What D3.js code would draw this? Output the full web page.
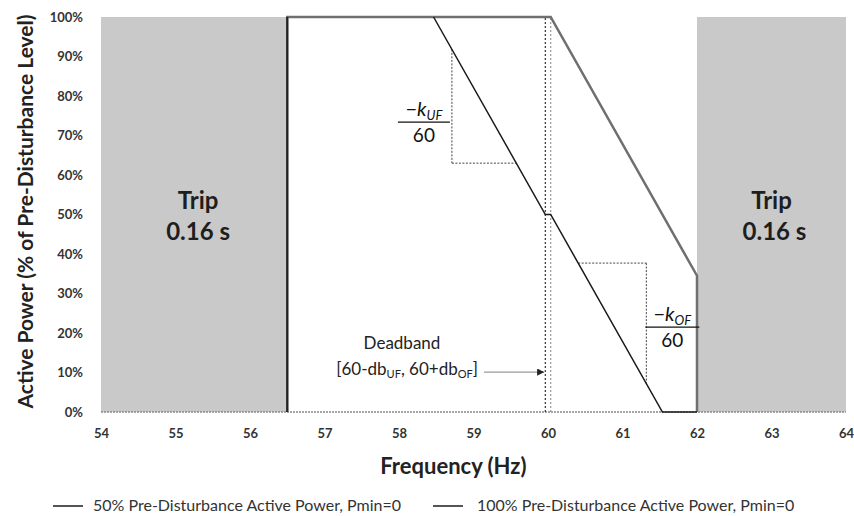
<!DOCTYPE html>
<html>
<head>
<meta charset="utf-8">
<script src="https://cdn.jsdelivr.net/npm/d3@7"></script>
<style>
  body { margin: 0; background: #fff; }
  text { font-family: Lato, "Open Sans", sans-serif; }
</style>
</head>
<body>
<svg id="chart" width="854" height="516"></svg>
<script>
// ---- data ----
var freqTicks = [54, 55, 56, 57, 58, 59, 60, 61, 62, 63, 64];
var powerTicks = [0, 10, 20, 30, 40, 50, 60, 70, 80, 90, 100];

// trip zones (Hz)
var tripStart = [54, 62];
var tripEnd = [56.5, 64];

// 100% pre-disturbance curve
var full_f = [56.5, 56.5, 60.036, 62, 62];
var full_p = [0, 100, 100, 34.5, 0];

// 50% pre-disturbance curve
var half_f = [58.464, 59.964, 60.036, 61.536, 62];
var half_p = [100, 50, 50, 0, 0];

// deadband edges
var deadband = [59.964, 60.036];

// slope triangles
var ufTri = [58.71, 63];     // f of vertical leg, power of horizontal leg
var ofTri = [60.405, 61.32]; // f at top corner, f of vertical leg

var seriesNames = ["50% Pre-Disturbance Active Power, Pmin=0", "100% Pre-Disturbance Active Power, Pmin=0"];

var margin = {top: 17, right: 8, bottom: 104, left: 101},
    width = 854 - margin.left - margin.right,
    height = 516 - margin.top - margin.bottom;

var svg = d3.select("#chart")
  .append("g")
  .attr("transform", "translate(" + margin.left + "," + margin.top + ")");

var x = d3.scaleLinear().domain([54, 64]).range([0, width]);
var y = d3.scaleLinear().domain([0, 100]).range([height, 0]);

// trip zones
svg.selectAll(".trip")
  .data(tripStart)
  .enter().append("rect")
  .attr("class", "trip")
  .attr("x", function(d) { return x(d); })
  .attr("y", y(100))
  .attr("width", function(d, i) { return x(tripEnd[i]) - x(d); })
  .attr("height", height)
  .attr("fill", "#c9c9c9");

svg.selectAll(".tripLabel")
  .data(tripStart)
  .enter().append("text")
  .attr("x", function(d, i) { return x((d + tripEnd[i]) / 2) + (i === 0 ? 4 : 0); })
  .attr("y", y(51.5))
  .attr("text-anchor", "middle")
  .attr("font-size", "24px")
  .attr("font-weight", "700")
  .attr("fill", "#1e1e1e")
  .text("Trip");

svg.selectAll(".tripTime")
  .data(tripStart)
  .enter().append("text")
  .attr("x", function(d, i) { return x((d + tripEnd[i]) / 2) + (i === 0 ? 4 : 3); })
  .attr("y", y(43.5))
  .attr("text-anchor", "middle")
  .attr("font-size", "24px")
  .attr("font-weight", "700")
  .attr("fill", "#1e1e1e")
  .text("0.16 s");

// zero line
svg.append("line")
  .attr("x1", 0).attr("x2", width)
  .attr("y1", y(0)).attr("y2", y(0))
  .attr("stroke", "#888")
  .attr("stroke-width", 1.5)
  .attr("stroke-dasharray", "2,1");

// deadband
svg.selectAll(".db")
  .data(deadband)
  .enter().append("line")
  .attr("x1", function(d) { return x(d); })
  .attr("x2", function(d) { return x(d); })
  .attr("y1", y(0)).attr("y2", y(100))
  .attr("stroke", function(d, i) { return i === 0 ? "#333" : "#999"; })
  .attr("stroke-width", 1.2)
  .attr("stroke-dasharray", "2,2");

// slope triangles
function halfAt(f) {
  // power on the 50% curve
  if (f <= half_f[1]) return half_p[0] + (f - half_f[0]) * (half_p[1] - half_p[0]) / (half_f[1] - half_f[0]);
  return half_p[2] + (f - half_f[2]) * (half_p[3] - half_p[2]) / (half_f[3] - half_f[2]);
}
function fAt(p, seg) {
  var a = seg * 2;
  return half_f[a] + (p - half_p[a]) * (half_f[a + 1] - half_f[a]) / (half_p[a + 1] - half_p[a]);
}

var triLines = [
  [ufTri[0], halfAt(ufTri[0]), ufTri[0], ufTri[1]],
  [ufTri[0], ufTri[1], fAt(ufTri[1], 0), ufTri[1]],
  [ofTri[0], halfAt(ofTri[0]), ofTri[1], halfAt(ofTri[0])],
  [ofTri[1], halfAt(ofTri[0]), ofTri[1], halfAt(ofTri[1])]
];
svg.selectAll(".tri")
  .data(triLines)
  .enter().append("line")
  .attr("x1", function(d) { return x(d[0]); })
  .attr("y1", function(d) { return y(d[1]); })
  .attr("x2", function(d) { return x(d[2]); })
  .attr("y2", function(d) { return y(d[3]); })
  .attr("stroke", "#444")
  .attr("stroke-width", 1)
  .attr("stroke-dasharray", "2,1.5");

// series lines
var line = d3.line()
  .x(function(d) { return x(d[0]); })
  .y(function(d) { return y(d[1]); });

svg.append("path")
  .datum(d3.zip(full_f, full_p))
  .attr("fill", "none")
  .attr("stroke", "#6f6f6f")
  .attr("stroke-width", 2.5)
  .attr("d", line);

svg.append("path")
  .datum(d3.zip(half_f, half_p))
  .attr("fill", "none")
  .attr("stroke", "#1a1a1a")
  .attr("stroke-width", 1.5)
  .attr("d", line);

// left edge of the 100% curve looks black
svg.append("line")
  .attr("x1", x(full_f[0])).attr("x2", x(full_f[1]))
  .attr("y1", y(0)).attr("y2", y(100))
  .attr("stroke", "#222")
  .attr("stroke-width", 2);

// fractions
function fraction(cx, cy, sub, w) {
  var g = svg.append("g");
  var num = g.append("text")
    .attr("x", cx).attr("y", cy - 6)
    .attr("text-anchor", "middle")
    .attr("font-family", "'DejaVu Serif', serif")
    .attr("font-size", "20px")
    .attr("fill", "#111");
  num.append("tspan").text("\u2212");
  num.append("tspan").attr("font-style", "italic").text("k");
  num.append("tspan").attr("font-style", "italic").attr("font-size", "13px").attr("dy", 4).text(sub);
  g.append("line")
    .attr("x1", cx - w / 2).attr("x2", cx + w / 2)
    .attr("y1", cy).attr("y2", cy)
    .attr("stroke", "#111").attr("stroke-width", 1.2);
  g.append("text")
    .attr("x", cx).attr("y", cy + 20)
    .attr("text-anchor", "middle")
    .attr("font-family", "'DejaVu Serif', serif")
    .attr("font-size", "19px")
    .attr("fill", "#111")
    .text("60");
}
fraction(x(ufTri[0]) - 28, y(73.4), "UF", 52);
fraction(x(ofTri[1]) + 26, y(21.5), "OF", 54);

// deadband label and arrow
svg.append("text")
  .attr("x", x(58.04))
  .attr("y", y(16))
  .attr("text-anchor", "middle")
  .attr("font-size", "17px")
  .attr("fill", "#222")
  .text("Deadband");

var dbText = svg.append("text")
  .attr("x", x(59.06))
  .attr("y", y(9.4))
  .attr("text-anchor", "end")
  .attr("font-size", "17px")
  .attr("fill", "#222");
dbText.append("tspan").text("[60-db");
dbText.append("tspan").attr("font-size", "11px").attr("dy", 3).text("UF");
dbText.append("tspan").attr("dy", -3).text(", 60+db");
dbText.append("tspan").attr("font-size", "11px").attr("dy", 3).text("OF");
dbText.append("tspan").attr("dy", -3).text("]");

svg.append("defs").append("marker")
  .attr("id", "arrow")
  .attr("viewBox", "0 0 10 10")
  .attr("refX", 10).attr("refY", 5)
  .attr("markerWidth", 6).attr("markerHeight", 6)
  .attr("orient", "auto")
  .append("path")
  .attr("d", "M0,0L10,5L0,10z")
  .attr("fill", "#222");

svg.append("line")
  .attr("x1", x(59.14)).attr("x2", x(deadband[0]) - 1)
  .attr("y1", y(10.1)).attr("y2", y(10.1))
  .attr("stroke", "#999")
  .attr("stroke-width", 1.2)
  .attr("marker-end", "url(#arrow)");

// axes
var xAxis = d3.axisBottom(x).tickValues(freqTicks).tickSize(0).tickPadding(17);
var yAxis = d3.axisLeft(y).tickValues(powerTicks).tickSize(0).tickPadding(18)
  .tickFormat(function(d) { return d + "%"; });

svg.append("g")
  .attr("transform", "translate(0," + height + ")")
  .call(xAxis)
  .call(function(g) { g.select(".domain").remove(); })
  .selectAll("text")
  .attr("font-family", "Lato, sans-serif")
  .attr("font-size", "13px")
  .attr("font-weight", "700")
  .attr("fill", "#333");

svg.append("g")
  .call(yAxis)
  .call(function(g) { g.select(".domain").remove(); })
  .selectAll("text")
  .attr("font-family", "Lato, sans-serif")
  .attr("font-size", "13px")
  .attr("font-weight", "700")
  .attr("fill", "#333");

// axis titles
svg.append("text")
  .attr("transform", "rotate(-90)")
  .attr("x", -height / 2 + 3)
  .attr("y", -68)
  .attr("text-anchor", "middle")
  .attr("font-size", "21px")
  .attr("font-weight", "700")
  .attr("fill", "#222")
  .text("Active Power (% of Pre-Disturbance Level)");

svg.append("text")
  .attr("x", x(58.73))
  .attr("y", height + 62)
  .attr("text-anchor", "middle")
  .attr("font-size", "22px")
  .attr("font-weight", "700")
  .attr("fill", "#222")
  .text("Frequency (Hz)");

// legend
var legendX = [53, 433];
var legendColors = ["#1a1a1a", "#555"];
var legend = d3.select("#chart").selectAll(".legend")
  .data(seriesNames)
  .enter().append("g")
  .attr("class", "legend")
  .attr("transform", function(d, i) { return "translate(" + legendX[i] + ",511)"; });

legend.append("line")
  .attr("x1", 0).attr("x2", 30)
  .attr("y1", -5).attr("y2", -5)
  .attr("stroke", function(d, i) { return legendColors[i]; })
  .attr("stroke-width", function(d, i) { return i === 0 ? 1.5 : 2; });

legend.append("text")
  .attr("x", function(d, i) { return i === 0 ? 40 : 44; })
  .attr("y", 0)
  .attr("font-size", "16px")
  .attr("fill", "#333")
  .text(function(d) { return d; });
</script>
</body>
</html>
